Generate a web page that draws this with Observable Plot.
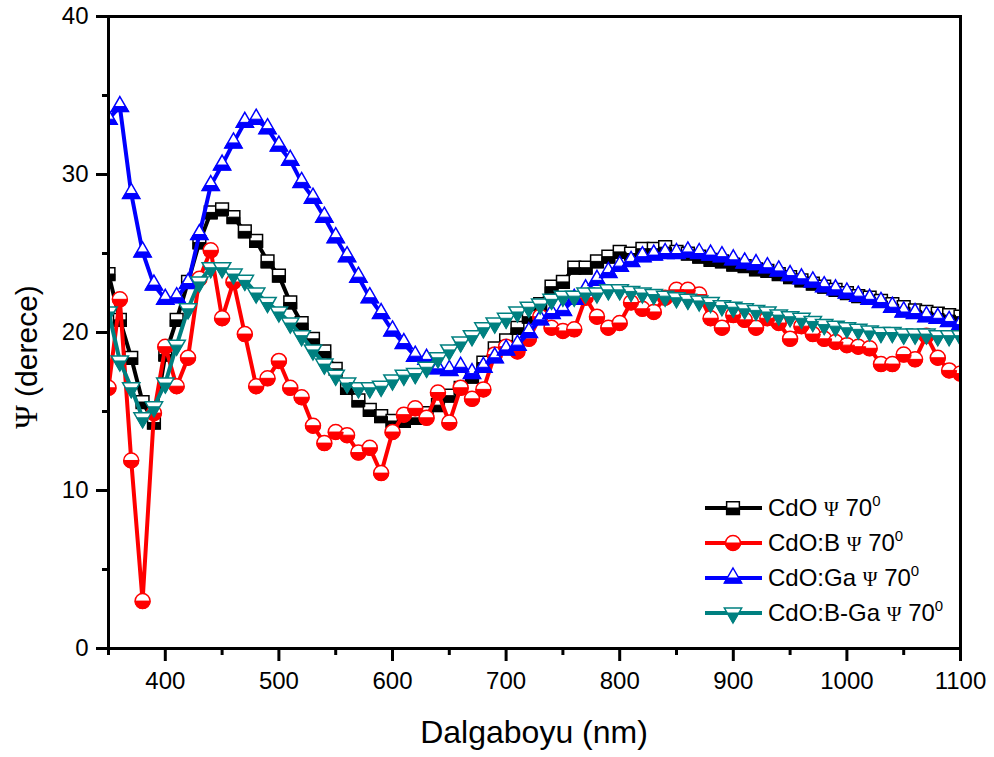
<!DOCTYPE html>
<html><head><meta charset="utf-8">
<script src="https://cdn.jsdelivr.net/npm/d3@7"></script>
<script src="https://cdn.jsdelivr.net/npm/@observablehq/plot@0.6"></script>
<style>
body{margin:0;background:#fff}
#chart{width:994px;height:757px}
</style>
</head><body><div id="chart"></div>
<script>
const wavelength = [350,360,370,380,390,400,410,420,430,440,450,460,470,480,490,500,510,520,530,540,550,560,570,580,590,600,610,620,630,640,650,660,670,680,690,700,710,720,730,740,750,760,770,780,790,800,810,820,830,840,850,860,870,880,890,900,910,920,930,940,950,960,970,980,990,1000,1010,1020,1030,1040,1050,1060,1070,1080,1090,1100];

const psiCdO = [23.7,20.8,18.4,15.6,14.3,18.6,20.8,23.2,25.7,27.6,27.8,27.3,26.4,25.8,24.5,23.6,21.9,20.6,19.6,18.8,17.7,16.5,15.7,15.1,14.7,14.4,14.4,14.6,14.9,15.4,16.0,16.5,17.2,18.1,19.0,19.5,20.3,21.0,21.8,22.9,23.2,24.1,24.1,24.5,24.8,25.1,25.0,25.3,25.3,25.4,25.1,25.0,24.8,24.6,24.5,24.3,24.2,24.0,23.9,23.7,23.5,23.3,23.1,22.9,22.7,22.5,22.3,22.2,22.0,21.8,21.6,21.4,21.3,21.2,21.1,21.0];

const psiCdOB = [16.5,22.1,11.9,3.0,14.9,19.1,16.6,18.4,23.4,25.2,20.9,23.2,19.9,16.6,17.1,18.2,16.5,15.9,14.1,13.0,13.7,13.5,12.4,12.7,11.1,13.7,14.8,15.2,14.6,16.2,14.3,16.5,15.8,16.4,18.6,19.1,18.8,19.6,21.0,20.3,20.1,20.2,22.2,21.0,20.3,20.6,21.9,21.5,21.3,22.2,22.7,22.7,22.4,20.9,20.3,21.1,20.8,20.3,20.9,20.6,19.6,20.4,19.9,19.6,19.4,19.2,19.1,19.0,18.0,18.0,18.6,18.3,19.8,18.4,17.6,17.4];

const psiCdOGa = [33.5,34.3,28.8,25.1,23.0,22.1,22.2,23.1,26.2,29.3,30.6,32.0,33.3,33.5,32.9,31.8,30.9,29.5,28.5,27.3,26.0,24.8,23.5,22.2,21.2,20.1,19.3,18.5,18.3,17.7,17.6,17.8,17.4,17.8,18.4,18.9,19.2,20.0,20.8,21.2,21.4,22.1,22.7,23.3,23.8,24.2,24.5,24.8,24.9,25.0,25.0,25.1,25.0,24.9,24.8,24.6,24.4,24.3,24.1,23.9,23.6,23.4,23.2,22.9,22.7,22.5,22.3,22.1,21.9,21.6,21.3,21.2,21.0,20.9,20.7,20.5];

const psiCdOBGa = [21.3,18.2,16.5,14.6,15.3,16.8,19.2,21.5,23.2,24.1,24.1,23.7,23.3,22.5,21.9,21.3,20.6,19.8,18.9,18.0,17.3,16.8,16.5,16.5,16.6,17.0,17.3,17.4,17.8,18.4,18.9,19.4,19.8,20.3,20.6,20.9,21.3,21.6,21.8,22.1,22.3,22.3,22.5,22.5,22.7,22.7,22.6,22.5,22.4,22.3,22.2,22.1,22.0,21.9,21.7,21.6,21.5,21.4,21.3,21.1,21.0,20.9,20.7,20.5,20.4,20.3,20.2,20.1,20.0,20.0,19.9,19.9,19.9,19.8,19.8,19.8];

const seriesNames = ["CdO", "CdO:B", "CdO:Ga", "CdO:B-Ga"];
const seriesValues = [psiCdO, psiCdOB, psiCdOGa, psiCdOBGa];
const seriesColors = ["#000000", "#ff0000", "#0000ff", "#008080"];
const seriesShapes = ["square", "circle", "triangleUp", "triangleDown"];
const seriesRadius = [7.5, 7.5, 10, 10];

const xMajorTicks = [400,500,600,700,800,900,1000,1100];
const xMinorTicks = [350,450,550,650,750,850,950,1050];
const yMajorTicks = [0,10,20,30,40];
const yMinorTicks = [5,15,25,35];

// custom half-filled symbols
function sym(shape, part) {
  return {
    draw(ctx, size) {
      const r = Math.sqrt(size / Math.PI);
      if (shape === "circle") {
        if (part === "full") { ctx.moveTo(r, 0); ctx.arc(0, 0, r, 0, 2 * Math.PI); }
        else { ctx.moveTo(r, 0); ctx.arc(0, 0, r, 0, Math.PI); ctx.closePath(); }
      } else if (shape === "square") {
        const s = r * 0.85;
        if (part === "full") ctx.rect(-s, -s, 2 * s, 2 * s);
        else ctx.rect(-s, 0, 2 * s, s);
      } else if (shape === "triangleUp") {
        const h = r * Math.sqrt(3) / 2;
        if (part === "full") {
          ctx.moveTo(0, -r); ctx.lineTo(h, r / 2); ctx.lineTo(-h, r / 2); ctx.closePath();
        } else {
          const w = h * 2 / 3;
          ctx.moveTo(-w, 0); ctx.lineTo(w, 0); ctx.lineTo(h, r / 2); ctx.lineTo(-h, r / 2); ctx.closePath();
        }
      } else {
        const h = r * Math.sqrt(3) / 2;
        if (part === "full") {
          ctx.moveTo(0, r); ctx.lineTo(h, -r / 2); ctx.lineTo(-h, -r / 2); ctx.closePath();
        } else {
          const w = h * 2 / 3;
          ctx.moveTo(-w, 0); ctx.lineTo(w, 0); ctx.lineTo(0, r); ctx.closePath();
        }
      }
    }
  };
}

const rows = [];
seriesNames.forEach((name, i) => {
  seriesValues[i].forEach((v, j) => rows.push({series: name, wavelength: wavelength[j], psi: v}));
});

const marks = [];
seriesNames.forEach((name, i) => {
  const data = rows.filter(d => d.series === name);
  const color = seriesColors[i];
  marks.push(Plot.line(data, {x: "wavelength", y: "psi", stroke: color, strokeWidth: 4, clip: true}));
  marks.push(Plot.dot(data, {x: "wavelength", y: "psi", symbol: sym(seriesShapes[i], "full"), r: seriesRadius[i], fill: "white", stroke: color, strokeWidth: 1.5, clip: true}));
  marks.push(Plot.dot(data, {x: "wavelength", y: "psi", symbol: sym(seriesShapes[i], "bottom"), r: seriesRadius[i], fill: color, stroke: color, strokeWidth: 1, clip: true}));
});

const svg = Plot.plot({
  width: 994,
  height: 757,
  marginLeft: 108,
  marginRight: 34,
  marginTop: 16,
  marginBottom: 109,
  style: {fontFamily: "'Liberation Sans', Arial, sans-serif", background: "white", color: "black"},
  x: {domain: [350, 1100]},
  y: {domain: [0, 40]},
  marks: [
    ...marks,
    Plot.axisX({ticks: xMinorTicks, tickSize: 7, tickFormat: () => "", strokeWidth: 3, label: null}),
    Plot.axisX({ticks: xMajorTicks, tickSize: 13, tickPadding: 10, fontSize: 24, strokeWidth: 3, tickFormat: d => String(d), label: null}),
    Plot.axisY({ticks: yMinorTicks, tickSize: 6, tickFormat: () => "", strokeWidth: 3, label: null}),
    Plot.axisY({ticks: yMajorTicks, tickSize: 12, tickPadding: 8, fontSize: 24, strokeWidth: 3, tickFormat: d => String(d), label: null}),
    Plot.frame({strokeWidth: 3})
  ]
});

document.getElementById("chart").appendChild(svg);

const s = d3.select(svg);
// axis titles
s.append("text")
  .attr("x", 534).attr("y", 743)
  .attr("text-anchor", "middle")
  .attr("font-size", 32)
  .attr("font-family", "'Liberation Sans', Arial, sans-serif")
  .attr("fill", "black")
  .text("Dalgaboyu (nm)");

const yt = s.append("text")
  .attr("transform", "translate(37,357) rotate(-90)")
  .attr("text-anchor", "middle")
  .attr("font-size", 30)
  .attr("font-family", "'Liberation Sans', Arial, sans-serif")
  .attr("fill", "black");
yt.append("tspan").attr("font-family", "'Liberation Serif', serif").attr("font-size", 32).text("Ψ");
yt.append("tspan").text(" (derece)");

// legend
const legendY = [508, 543, 578, 613];
seriesNames.forEach((name, i) => {
  const g = s.append("g");
  const cy = legendY[i];
  g.append("line").attr("x1", 705).attr("x2", 762).attr("y1", cy).attr("y2", cy)
    .attr("stroke", seriesColors[i]).attr("stroke-width", 4);
  const size = Math.PI * seriesRadius[i] * seriesRadius[i];
  g.append("path").attr("transform", `translate(733,${cy})`)
    .attr("d", d3.symbol(sym(seriesShapes[i], "full"), size)())
    .attr("fill", "white").attr("stroke", seriesColors[i]).attr("stroke-width", 1.5);
  g.append("path").attr("transform", `translate(733,${cy})`)
    .attr("d", d3.symbol(sym(seriesShapes[i], "bottom"), size)())
    .attr("fill", seriesColors[i]).attr("stroke", seriesColors[i]).attr("stroke-width", 1);
  const t = g.append("text").attr("x", 768).attr("y", cy + 8)
    .attr("text-anchor", "start")
    .attr("font-size", 24)
    .attr("font-family", "'Liberation Sans', Arial, sans-serif")
    .attr("fill", "black");
  t.append("tspan").text(name + " ");
  t.append("tspan").attr("font-family", "'Liberation Serif', serif").attr("font-size", 20).text("Ψ");
  t.append("tspan").text(" 70");
  t.append("tspan").attr("font-size", 15).attr("dy", -10).text("0");
});
</script>
</body></html>
